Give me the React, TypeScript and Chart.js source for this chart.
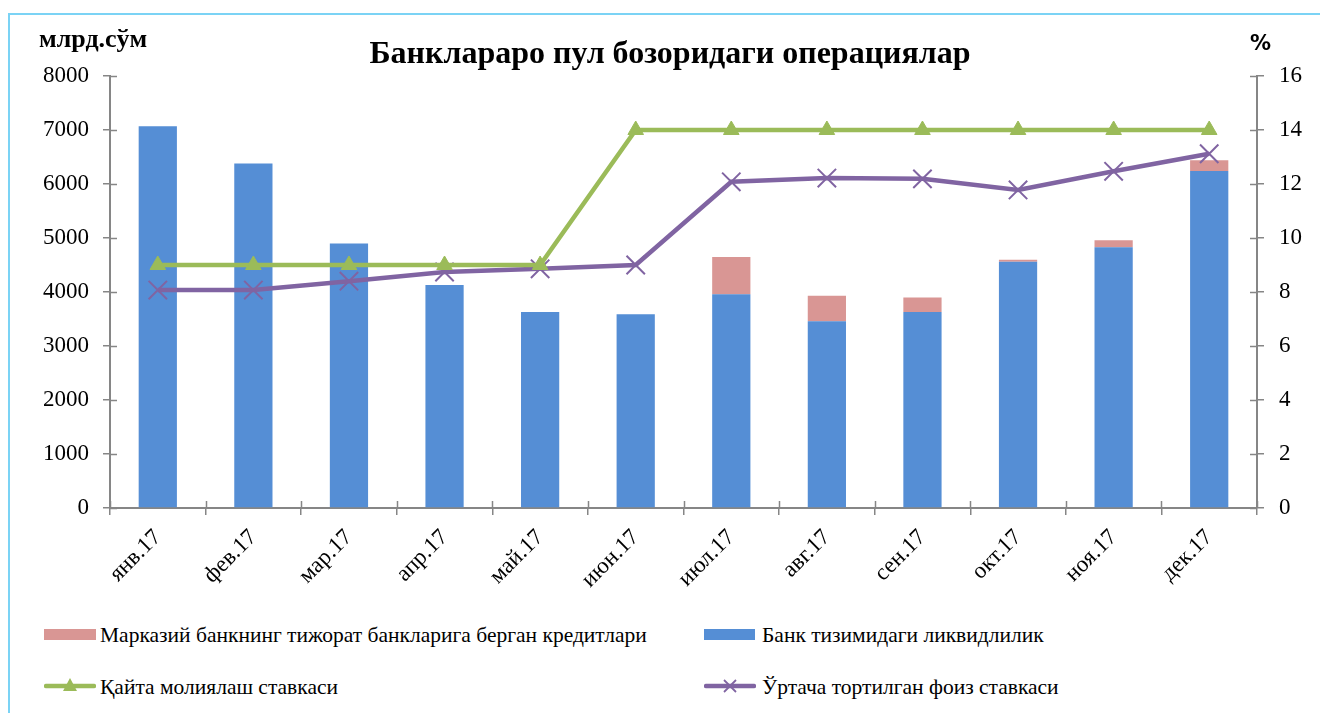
import React, { useEffect, useRef } from "react";
import { Chart, registerables } from "chart.js";

Chart.register(...registerables);

const categories = ["янв.17", "фев.17", "мар.17", "апр.17", "май.17", "июн.17", "июл.17", "авг.17", "сен.17", "окт.17", "ноя.17", "дек.17"];
const liquidity = [7070, 6380, 4900, 4130, 3630, 3590, 3960, 3460, 3630, 4560, 4830, 6240];
const cbCredits = [0, 0, 0, 0, 0, 0, 690, 470, 270, 35, 130, 200];
const refinRate = [9, 9, 9, 9, 9, 14, 14, 14, 14, 14, 14, 14];
const avgRate = [8.07, 8.07, 8.4, 8.74, 8.86, 9.0, 12.08, 12.22, 12.19, 11.78, 12.47, 13.12];

const seriesNames = [
  "Марказий банкнинг тижорат банкларига берган кредитлари",
  "Банк тизимидаги ликвидлилик",
  "Қайта молиялаш ставкаси",
  "Ўртача тортилган фоиз ставкаси",
];
const titleText = "Банклараро пул бозоридаги операциялар";
const leftUnit = "млрд.сўм";
const rightUnit = "%";

const BLUE = "#558ED5";
const PINK = "#D99694";
const GREEN = "#9BBB59";
const PURPLE = "#8064A2";
const AXIS = "#868686";
const FONT = "'Liberation Serif', 'Times New Roman', serif";

const innerTicks = {
  id: "innerTicks",
  afterDatasetsDraw(chart: any) {
    const ctx = chart.ctx;
    const { x, y, y1 } = chart.scales;
    ctx.save();
    ctx.strokeStyle = AXIS;
    ctx.lineWidth = 1.5;
    ctx.beginPath();
    y.ticks.forEach((_t: any, i: number) => {
      const py = Math.round(y.getPixelForTick(i)) + 0.5;
      ctx.moveTo(y.right, py);
      ctx.lineTo(y.right + 7, py);
    });
    y1.ticks.forEach((_t: any, i: number) => {
      const py = Math.round(y1.getPixelForTick(i)) + 0.5;
      ctx.moveTo(y1.left - 7, py);
      ctx.lineTo(y1.left, py);
    });
    for (let i = 0; i <= categories.length; i++) {
      const px = Math.round(x.getPixelForValue(i - 0.5)) + 0.5;
      ctx.moveTo(px, x.top);
      ctx.lineTo(px, x.top - 7);
    }
    ctx.stroke();
    ctx.restore();
  },
};

function LineIcon({ color, marker }: { color: string; marker: "tri" | "x" }) {
  return (
    <svg width={52} height={22} style={{ display: "block" }}>
      <line x1={2} y1={11} x2={50} y2={11} stroke={color} strokeWidth={4.5} strokeLinecap="round" />
      {marker === "tri" ? (
        <polygon points="26,3 33,16 19,16" fill={color} />
      ) : (
        <g stroke={color} strokeWidth={1.8}>
          <line x1={20} y1={5} x2={32} y2={17} />
          <line x1={32} y1={5} x2={20} y2={17} />
        </g>
      )}
    </svg>
  );
}

export default function App() {
  const canvasRef = useRef<HTMLCanvasElement | null>(null);

  useEffect(() => {
    if (!canvasRef.current) return;
    const tickFont = { family: FONT, size: 23 };
    const chart = new Chart(canvasRef.current, {
      type: "bar",
      data: {
        labels: categories,
        datasets: [
          {
            type: "line",
            label: seriesNames[2],
            data: refinRate,
            yAxisID: "y1",
            borderColor: GREEN,
            backgroundColor: GREEN,
            borderWidth: 4.5,
            pointStyle: "triangle",
            pointRadius: 9,
            pointBackgroundColor: GREEN,
            pointBorderColor: GREEN,
            pointBorderWidth: 1,
            tension: 0,
            order: 0,
          } as any,
          {
            type: "line",
            label: seriesNames[3],
            data: avgRate,
            yAxisID: "y1",
            borderColor: PURPLE,
            backgroundColor: PURPLE,
            borderWidth: 4.5,
            pointStyle: "crossRot",
            pointRadius: 13,
            pointBorderColor: PURPLE,
            pointBorderWidth: 2,
            tension: 0,
            order: 0,
          } as any,
          {
            type: "bar",
            label: seriesNames[1],
            data: liquidity,
            backgroundColor: BLUE,
            yAxisID: "y",
            stack: "s",
            barPercentage: 0.4,
            categoryPercentage: 1,
            order: 1,
          },
          {
            type: "bar",
            label: seriesNames[0],
            data: cbCredits,
            backgroundColor: PINK,
            yAxisID: "y",
            stack: "s",
            barPercentage: 0.4,
            categoryPercentage: 1,
            order: 2,
          },
        ],
      },
      options: {
        animation: false,
        responsive: false,
        maintainAspectRatio: false,
        layout: { padding: { left: 20, right: 0, top: 0, bottom: 0 } },
        plugins: {
          legend: { display: false },
          tooltip: { enabled: false },
          title: {
            display: true,
            text: titleText,
            color: "#000",
            font: { family: FONT, size: 32, weight: "bold" },
            padding: { top: 36, bottom: 1.6 },
          },
        },
        scales: {
          x: {
            stacked: true,
            offset: true,
            afterFit: (s: any) => {
              s.height = 92;
            },
            grid: { offset: true, drawOnChartArea: false, drawTicks: true, tickLength: 7, color: AXIS, lineWidth: 1.5 },
            border: { display: true, color: AXIS, width: 2 },
            ticks: {
              color: "#000",
              font: tickFont,
              minRotation: 45,
              maxRotation: 45,
              autoSkip: false,
              padding: 9,
            },
          },
          y: {
            stacked: true,
            position: "left",
            min: 0,
            max: 8000,
            afterFit: (s: any) => {
              s.width = 90;
            },
            grid: { drawOnChartArea: false, drawTicks: true, tickLength: 7, color: AXIS, lineWidth: 1.5 },
            border: { display: true, color: AXIS, width: 2 },
            ticks: { stepSize: 1000, color: "#000", font: tickFont, padding: 14, callback: (v: any) => String(v) },
          },
          y1: {
            position: "right",
            min: 0,
            max: 16,
            afterFit: (s: any) => {
              s.width = 63;
            },
            grid: { drawOnChartArea: false, drawTicks: true, tickLength: 7, color: AXIS, lineWidth: 1.5 },
            border: { display: true, color: AXIS, width: 2 },
            ticks: { stepSize: 2, color: "#000", font: tickFont, padding: 15, callback: (v: any) => String(v) },
          },
        },
      },
      plugins: [innerTicks],
    });
    return () => chart.destroy();
  }, []);

  const textStyle: React.CSSProperties = {
    position: "absolute",
    fontFamily: FONT,
    fontSize: 21.5,
    color: "#000",
    whiteSpace: "nowrap",
    lineHeight: "26px",
  };

  return (
    <div
      style={{
        position: "absolute",
        left: 0,
        top: 0,
        width: 1320,
        height: 713,
        overflow: "hidden",
        background: "#fff",
      }}
    >
      <div
        style={{
          position: "absolute",
          left: 8,
          top: 13,
          width: 1400,
          height: 800,
          border: "2px solid #7BD3F5",
        }}
      />
      <canvas ref={canvasRef} width={1320} height={600} style={{ position: "absolute", left: 0, top: 0, width: 1320, height: 600 }} />
      <div style={{ ...textStyle, left: 39, top: 24, fontWeight: "bold", fontSize: 26, lineHeight: "30px" }}>{leftUnit}</div>
      <div style={{ ...textStyle, left: 1250, top: 30, fontWeight: "bold", fontSize: 21, fontFamily: "'DejaVu Sans', sans-serif" }}>
        {rightUnit}
      </div>
      <div style={{ position: "absolute", left: 44, top: 629, width: 52, height: 11, background: PINK }} />
      <div style={{ ...textStyle, left: 100, top: 622 }}>{seriesNames[0]}</div>
      <div style={{ position: "absolute", left: 704, top: 629, width: 51, height: 11, background: BLUE }} />
      <div style={{ ...textStyle, left: 762, top: 622 }}>{seriesNames[1]}</div>
      <div style={{ position: "absolute", left: 44, top: 675 }}>
        <LineIcon color={GREEN} marker="tri" />
      </div>
      <div style={{ ...textStyle, left: 100, top: 674 }}>{seriesNames[2]}</div>
      <div style={{ position: "absolute", left: 704, top: 675 }}>
        <LineIcon color={PURPLE} marker="x" />
      </div>
      <div style={{ ...textStyle, left: 762, top: 674 }}>{seriesNames[3]}</div>
    </div>
  );
}
